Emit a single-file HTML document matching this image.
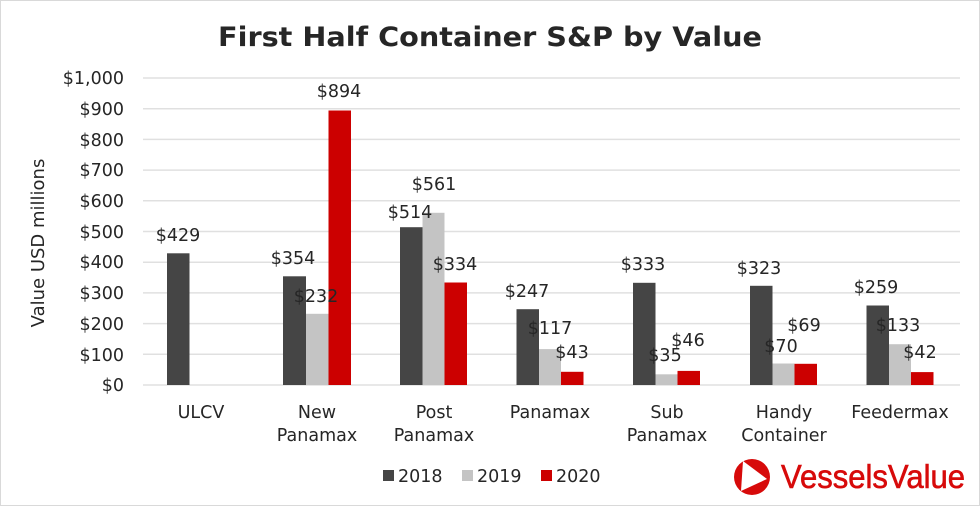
<!DOCTYPE html>
<html><head><meta charset="utf-8"><style>
body{margin:0;background:#fff}
svg{display:block;font-family:"DejaVu Sans","Liberation Sans",sans-serif}
</style></head><body>
<svg width="980" height="506" viewBox="0 0 980 506" xmlns="http://www.w3.org/2000/svg">
<rect x="0.5" y="0.5" width="979" height="505" fill="#fff" stroke="#d9d9d9"/>
<text x="490" y="46" text-anchor="middle" font-size="27" font-weight="bold" fill="#262626" textLength="544" lengthAdjust="spacingAndGlyphs">First Half Container S&amp;P by Value</text>
<g stroke="#e0e0e0" stroke-width="1.5">
<line x1="143" x2="960" y1="78" y2="78"/><line x1="143" x2="960" y1="108.7" y2="108.7"/>
<line x1="143" x2="960" y1="139.4" y2="139.4"/><line x1="143" x2="960" y1="170.1" y2="170.1"/>
<line x1="143" x2="960" y1="200.8" y2="200.8"/><line x1="143" x2="960" y1="231.5" y2="231.5"/>
<line x1="143" x2="960" y1="262.2" y2="262.2"/><line x1="143" x2="960" y1="292.9" y2="292.9"/>
<line x1="143" x2="960" y1="323.6" y2="323.6"/><line x1="143" x2="960" y1="354.3" y2="354.3"/>
<line x1="143" x2="960" y1="385" y2="385"/>
</g>
<g font-size="17.5" fill="#262626" text-anchor="end">
<text x="124" y="84">$1,000</text><text x="124" y="115">$900</text><text x="124" y="146">$800</text>
<text x="124" y="176">$700</text><text x="124" y="207">$600</text><text x="124" y="238">$500</text>
<text x="124" y="268">$400</text><text x="124" y="299">$300</text><text x="124" y="330">$200</text>
<text x="124" y="361">$100</text><text x="124" y="391">$0</text>
</g>
<text transform="translate(44,243) rotate(-90)" text-anchor="middle" font-size="18" fill="#262626">Value USD millions</text>
<g>
<rect x="167" y="253.3" width="22.5" height="131.7" fill="#454545"/>
<rect x="283" y="276.3" width="23" height="108.7" fill="#454545"/>
<rect x="306" y="313.8" width="22.5" height="71.2" fill="#c4c4c4"/>
<rect x="328.5" y="110.5" width="22.5" height="274.5" fill="#cc0000"/>
<rect x="400" y="227.2" width="22.5" height="157.8" fill="#454545"/>
<rect x="422.5" y="212.8" width="22" height="172.2" fill="#c4c4c4"/>
<rect x="444.5" y="282.5" width="22.5" height="102.5" fill="#cc0000"/>
<rect x="516.5" y="309.2" width="22.5" height="75.8" fill="#454545"/>
<rect x="539" y="349.1" width="22" height="35.9" fill="#c4c4c4"/>
<rect x="561" y="371.8" width="22.5" height="13.2" fill="#cc0000"/>
<rect x="633" y="282.8" width="22.5" height="102.2" fill="#454545"/>
<rect x="655.5" y="374.3" width="22" height="10.7" fill="#c4c4c4"/>
<rect x="677.5" y="370.9" width="22.5" height="14.1" fill="#cc0000"/>
<rect x="750" y="285.8" width="22.5" height="99.2" fill="#454545"/>
<rect x="772.5" y="363.5" width="22" height="21.5" fill="#c4c4c4"/>
<rect x="794.5" y="363.8" width="22.5" height="21.2" fill="#cc0000"/>
<rect x="866.5" y="305.5" width="22.5" height="79.5" fill="#454545"/>
<rect x="889" y="344.2" width="22" height="40.8" fill="#c4c4c4"/>
<rect x="911" y="372.1" width="22.5" height="12.9" fill="#cc0000"/>
</g>
<g font-size="17.5" fill="#262626" text-anchor="middle">
<text x="178" y="241">$429</text><text x="293" y="264">$354</text><text x="316" y="302">$232</text>
<text x="339" y="97">$894</text><text x="410" y="218">$514</text><text x="434" y="190">$561</text>
<text x="455" y="270">$334</text><text x="527" y="297">$247</text><text x="550" y="334">$117</text>
<text x="572" y="358">$43</text><text x="643" y="270">$333</text><text x="665" y="361">$35</text>
<text x="688" y="346">$46</text><text x="759" y="274">$323</text><text x="781" y="352">$70</text>
<text x="804" y="331">$69</text><text x="876" y="293">$259</text><text x="898" y="331">$133</text>
<text x="920" y="358">$42</text>
</g>
<g font-size="17.5" fill="#262626" text-anchor="middle">
<text x="201" y="418">ULCV</text>
<text x="317" y="418">New</text><text x="317" y="441">Panamax</text>
<text x="434" y="418">Post</text><text x="434" y="441">Panamax</text>
<text x="550" y="418">Panamax</text>
<text x="667" y="418">Sub</text><text x="667" y="441">Panamax</text>
<text x="784" y="418">Handy</text><text x="784" y="441">Container</text>
<text x="900" y="418">Feedermax</text>
</g>
<g font-size="17.5" fill="#262626">
<rect x="383" y="470" width="11" height="11" fill="#454545"/><text x="398" y="482">2018</text>
<rect x="462" y="470" width="11" height="11" fill="#c4c4c4"/><text x="477" y="482">2019</text>
<rect x="541" y="470" width="11" height="11" fill="#cc0000"/><text x="556" y="482">2020</text>
</g>
<circle cx="752" cy="477" r="18" fill="#d70a0a"/>
<path d="M743 461 L767 479 L741 491 Z" fill="#fff"/>
<text x="781" y="488" font-family="Liberation Sans, sans-serif" font-size="33" fill="#d70a0a" textLength="184" lengthAdjust="spacingAndGlyphs" stroke="#d70a0a" stroke-width="0.6">VesselsValue</text>
</svg>
</body></html>
